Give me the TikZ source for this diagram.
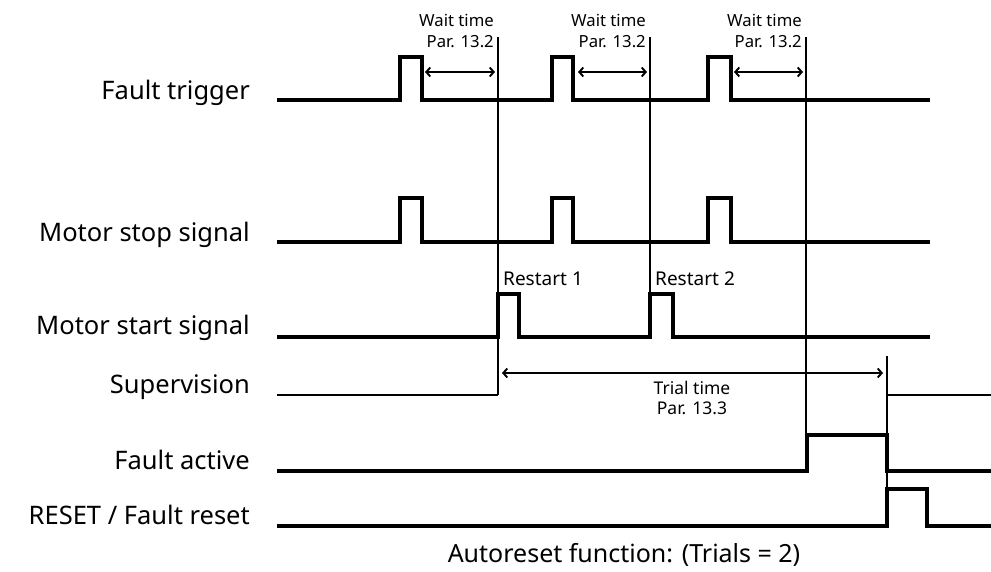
\documentclass[tikz,border=0pt]{standalone}
\usepackage{fontspec}
\setmainfont{Noto Sans}
\usetikzlibrary{arrows.meta}
\begin{document}
\begin{tikzpicture}[x=1pt,y=-1pt,
  sig/.style={line width=3.3pt,line join=miter},
  sigthin/.style={line width=2.2pt,line join=miter},
  marker/.style={line width=1.4pt},
  span/.style={line width=1.9pt,{Straight Barb[length=4pt,width=9pt]}-{Straight Barb[length=4pt,width=9pt]}},
  lbl/.style={anchor=east,inner sep=0pt,font=\fontsize{25.5}{28}\selectfont},
  par/.style={anchor=east,inner sep=0pt,align=right,font=\fontsize{16.7}{21}\selectfont},
  restart/.style={anchor=west,inner sep=0pt,font=\fontsize{19}{22}\selectfont}]
\useasboundingbox (0,0) rectangle (991,572);
% signal names
\node[lbl] (ft) at (250,93) {Fault trigger};
\node[lbl] (ms) at (250,235) {Motor stop signal};
\node[lbl] (mt) at (250,328) {Motor start signal};
\node[lbl] (sv) at (250,387) {Supervision};
\node[lbl] (fa) at (250,460) {Fault active};
\node[lbl] (rs) at (250,515) {RESET / Fault reset};
% restart instants
\coordinate (t1) at (498,37);
\coordinate (t2) at (650,37);
\coordinate (t3) at (806,37);
\coordinate (t4) at (887,356);
\draw[marker] (t1) -- (498,395);
\draw[marker] (t2) -- (650,337);
\draw[marker] (t3) -- (806,435);
\draw[marker] (t4) -- (887,526);
% traces
\draw[sig] (277,100) -| (400,57) -| (422,100) -| (552,57) -| (573,100) -| (708,57) -| (731,100) -- (930,100);
\draw[sig] (277,242) -| (400,198) -| (422,242) -| (552,198) -| (573,242) -| (708,198) -| (731,242) -- (930,242);
\draw[sig] (277,337) -| (498,294) -| (519,337) -| (650,294) -| (673,337) -- (930,337);
\draw[sigthin] (277,395) -- (498,395);
\draw[sigthin] (887,395) -- (991,395);
\draw[sig] (277,471) -| (807,435) -| (887,471) -- (991,471);
\draw[sig] (277,526) -| (887,489) -| (927,526) -- (991,526);
% wait times
\foreach \a/\b/\e in {425/495/494, 578/647/646, 734/803/802}{
  \draw[span] (\a,72) -- (\b,72);
  \node[par] at (\e,31) {Wait time\\Par. 13.2};
}
% trial time
\coordinate (tr0) at (502,373);
\coordinate (tr1) at (883,373);
\draw[span] (tr0) -- (tr1);
\node[align=center,inner sep=0pt,font=\fontsize{17.5}{20}\selectfont] (trial) at (692,398) {Trial time\\Par. 13.3};
\node[restart] (r1) at (503,279) {Restart 1};
\node[restart] (r2) at (655,279) {Restart 2};
\node[inner sep=0pt,font=\fontsize{25}{28}\selectfont] (cap) at (624,555) {Autoreset function: (Trials = 2)};
\end{tikzpicture}
\end{document}
